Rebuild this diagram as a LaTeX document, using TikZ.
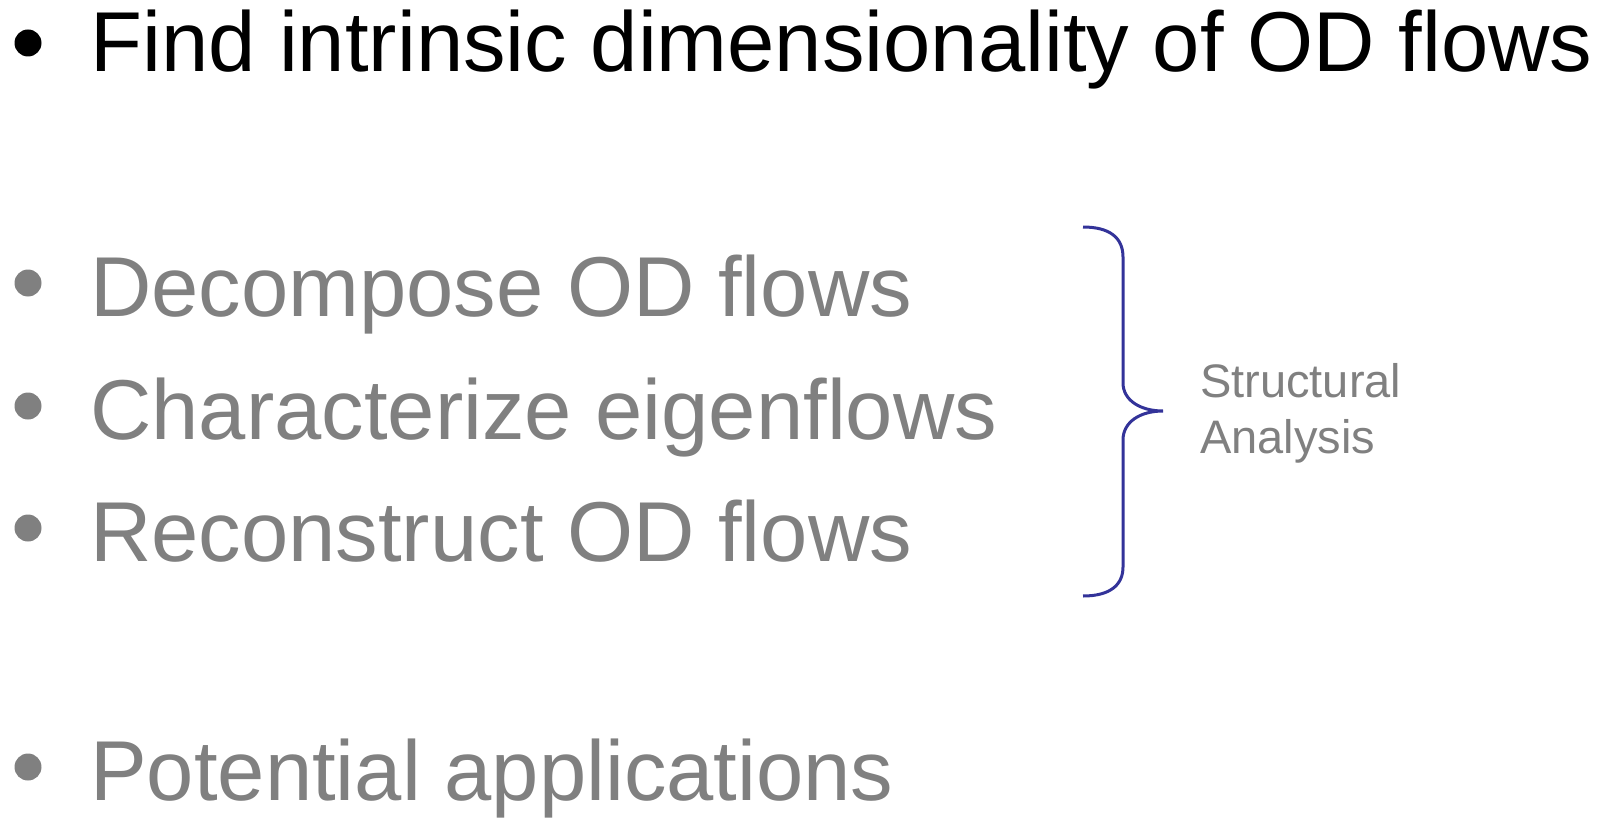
\documentclass[tikz,border=0pt]{standalone}
\usepackage{fontspec}
\setmainfont{Liberation Sans}
\usepackage{tikz}
\usetikzlibrary{positioning}

\definecolor{itemgray}{RGB}{128,128,128}
\definecolor{bracecol}{RGB}{51,51,153}

\begin{document}
\begin{tikzpicture}[
    x=1pt, y=-1pt,
    dot/.style={circle, fill, inner sep=0pt, minimum size=27pt},
    item/.style={anchor=base west, inner sep=0pt, font=\fontsize{85}{100}\selectfont},
    note/.style={anchor=base west, inner sep=0pt, align=left,
        font=\fontsize{47}{56}\selectfont, text=itemgray},
    bracket/.style={draw=bracecol, line width=3pt}
]
    \useasboundingbox (0,0) rectangle (1602,821);

    % main point
    \node [dot, black] (d0) at (28, 43) {};
    \node [item] (t0) at (90, 72)
        {Find intrinsic dimensionality of OD flows};

    % structural analysis steps
    \node [dot, itemgray] (d1) at (28, 283) {};
    \node [item, text=itemgray] (t1) at (90, 316) {Decompose OD flows};
    \node [dot, itemgray] (d2) at (28, 406) {};
    \node [item, text=itemgray] (t2) at (90, 439) {Characterize eigenflows};
    \node [dot, itemgray] (d3) at (28, 528) {};
    \node [item, text=itemgray] (t3) at (90, 561) {Reconstruct OD flows};

    % last point
    \node [dot, itemgray] (d4) at (28, 767) {};
    \node [item, text=itemgray] (t4) at (90, 800) {Potential applications};

    % curly bracket round the three steps
    \draw [bracket]
        (1083,227) .. controls (1110,227) and (1123,238) .. (1123,257)
        -- (1123,383)
        .. controls (1123,400) and (1140,411) .. (1163,411)
        .. controls (1140,411) and (1123,422) .. (1123,440)
        -- (1123,567)
        .. controls (1123,585) and (1110,596) .. (1083,596);

    % bracket label (base = last line)
    \node [note] (sa) at (1200, 453) {Structural\\Analysis};

\end{tikzpicture}
\end{document}
